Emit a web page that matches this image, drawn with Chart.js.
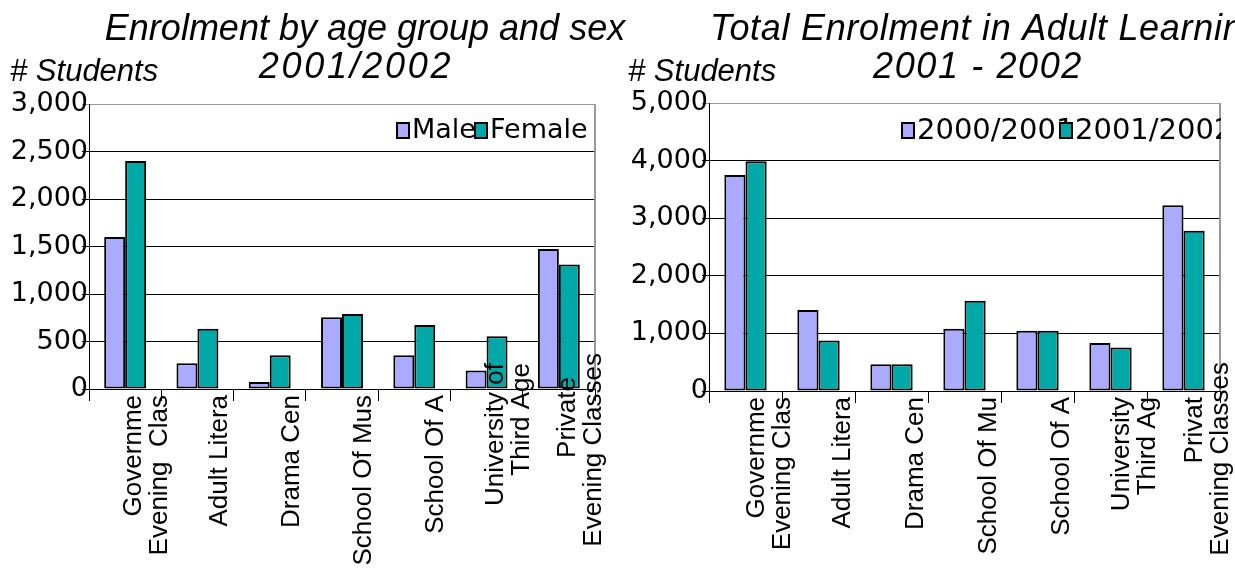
<!DOCTYPE html>
<html>
<head>
<meta charset="utf-8">
<script src="https://cdn.jsdelivr.net/npm/chart.js@4.4.1/dist/chart.umd.min.js"></script>
<style>
  html, body { margin: 0; padding: 0; background: #fff; }
  #wrap { position: relative; width: 1235px; height: 568px; overflow: hidden; }
  canvas { position: absolute; top: 0; }
  #left { left: 0; }
  #right { left: 617px; }
</style>
</head>
<body>
<div id="wrap">
  <canvas id="left" width="640" height="568"></canvas>
  <canvas id="right" width="618" height="568"></canvas>
</div>
<script>
// left chart: enrolment by sex
var sexCategories = [
  ["Governme", "Evening  Clas"], ["Adult Litera"], ["Drama Cen"], ["School Of Mus"],
  ["School Of A"], ["University of", "Third Age"], ["Private", "Evening Classes"]
];
var maleValues = [1600, 270, 75, 755, 355, 195, 1475];
var femaleValues = [2400, 635, 355, 790, 675, 555, 1310];

// right chart: total enrolment by year
var yearCategories = [
  ["Governme", "Evening Clas"], ["Adult Litera"], ["Drama Cen"], ["School Of Mu"],
  ["School Of A"], ["University", "Third Ag"], ["Privat", "Evening Classes"]
];
var values2000 = [3750, 1405, 465, 1080, 1045, 835, 3225];
var values2001 = [3990, 875, 465, 1565, 1045, 755, 2780];

var lilac = '#AAAAFF';
var teal = '#00A8A8';

// titles, axis caption, rotated category labels and the small legend
var decor = {
  id: 'decor',
  afterDraw: function (chart, args, opts) {
    var ctx = chart.ctx, area = chart.chartArea, xs = chart.scales.x;
    ctx.save();

    ctx.strokeStyle = '#999';
    ctx.lineWidth = 2;
    ctx.beginPath();
    ctx.moveTo(area.right, area.top);
    ctx.lineTo(area.right, area.bottom);
    ctx.stroke();

    ctx.fillStyle = '#000';
    ctx.textBaseline = 'alphabetic';
    ctx.font = 'italic 36px "Liberation Sans"';
    opts.titles.forEach(function (t) {
      ctx.textAlign = t.align;
      ctx.letterSpacing = t.spacing || '0px';
      ctx.fillText(t.text, t.x, t.y);
    });
    ctx.letterSpacing = '0px';
    ctx.font = 'italic 31px "Liberation Sans"';
    ctx.textAlign = 'left';
    ctx.fillText('# Students', opts.captionX, 81);

    ctx.font = '26px "Liberation Sans"';
    ctx.textAlign = 'right';
    ctx.textBaseline = 'middle';
    chart.data.labels.forEach(function (lines, i) {
      var cx = xs.getPixelForValue(i) + opts.labelShift;
      lines.forEach(function (line, j) {
        var x = cx + (j - (lines.length - 1) / 2) * 26;
        var up = opts.raise[i] ? opts.raise[i][j] : 0;
        ctx.save();
        ctx.translate(x, area.bottom + 6 - up);
        ctx.rotate(-Math.PI / 2);
        ctx.fillText(line, 0, 0);
        ctx.restore();
      });
    });

    ctx.beginPath();
    ctx.rect(0, 0, area.right + 1, chart.height);
    ctx.clip();
    ctx.font = opts.legendSize + 'px "DejaVu Sans"';
    ctx.textAlign = 'left';
    chart.data.datasets.forEach(function (ds, i) {
      var bx = area.left + opts.legendX + i * opts.legendStep, by = 123;
      ctx.fillStyle = ds.backgroundColor;
      ctx.fillRect(bx, by, 12, 15);
      ctx.strokeStyle = '#000';
      ctx.lineWidth = 2;
      ctx.strokeRect(bx, by, 12, 15);
      ctx.fillStyle = '#000';
      ctx.fillText(ds.label, bx + 15, by + 8);
    });
    ctx.restore();
  }
};

function makeOptions(max, step, top, yWidth, xHeight, padRight, deco) {
  return {
    responsive: false,
    animation: false,
    layout: { padding: { left: 0, top: top, right: padRight, bottom: 0 } },
    plugins: {
      legend: { display: false },
      title: { display: false },
      tooltip: { enabled: false },
      decor: deco
    },
    scales: {
      x: {
        grid: { drawOnChartArea: false, drawTicks: true, tickLength: 12, color: '#000' },
        border: { color: '#000', width: 1 },
        ticks: { display: false },
        afterFit: function (s) { s.height = xHeight; }
      },
      y: {
        min: 0,
        max: max,
        ticks: { stepSize: step, color: '#000', padding: -6, font: { family: 'DejaVu Sans', size: 27 } },
        grid: {
          tickLength: 7,
          color: function (c) { return c.tick && c.tick.value === max ? '#999' : '#000'; }
        },
        border: { color: '#000', width: 1 },
        afterFit: function (s) { s.width = yWidth; }
      }
    }
  };
}

function bars(label, values, color) {
  return {
    label: label,
    data: values,
    backgroundColor: color,
    borderColor: '#000',
    borderWidth: 2,
    borderSkipped: false,
    categoryPercentage: 0.58,
    barPercentage: 1.0
  };
}

new Chart(document.getElementById('left').getContext('2d'), {
  type: 'bar',
  data: {
    labels: sexCategories,
    datasets: [bars('Male', maleValues, lilac), bars('Female', femaleValues, teal)]
  },
  options: makeOptions(3000, 500, 104, 89, 179, 45, {
    titles: [
      { text: 'Enrolment by age group and sex', x: 365, y: 40, align: 'center' },
      { text: '2001/2002', x: 356, y: 78, align: 'center', spacing: '2.7px' }
    ],
    captionX: 10,
    labelShift: 22,
    raise: [null, null, null, null, null, [32, 32], [18, 42]],
    legendX: 308,
    legendStep: 78,
    legendSize: 27
  }),
  plugins: [decor]
});

new Chart(document.getElementById('right').getContext('2d'), {
  type: 'bar',
  data: {
    labels: yearCategories,
    datasets: [bars('2000/2001', values2000, lilac), bars('2001/2002', values2001, teal)]
  },
  options: makeOptions(5000, 1000, 103, 92, 177, 15, {
    titles: [
      { text: 'Total Enrolment in Adult Learning', x: 93, y: 40, align: 'left', spacing: '0.7px' },
      { text: '2001 - 2002', x: 361, y: 78, align: 'center', spacing: '1.6px' }
    ],
    captionX: 11,
    labelShift: 24,
    raise: [null, null, null, null, null, null, [0, 35]],
    legendX: 193,
    legendStep: 158,
    legendSize: 29
  }),
  plugins: [decor]
});
</script>
</body>
</html>
